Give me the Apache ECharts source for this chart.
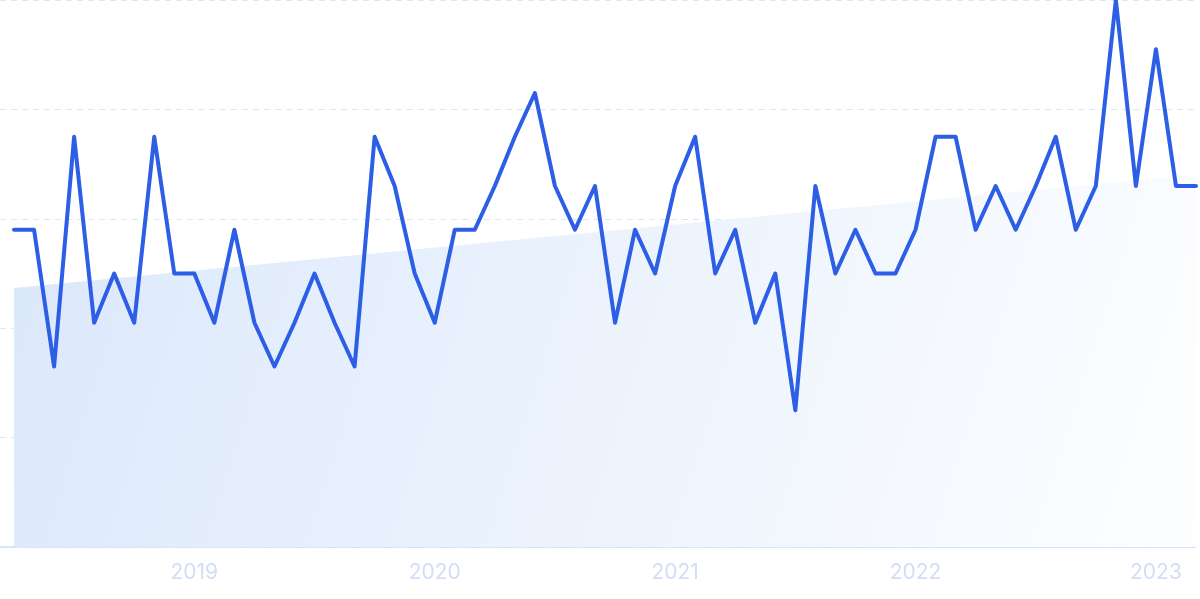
<!DOCTYPE html>
<html>
<head>
<meta charset="utf-8">
<script src="https://cdn.jsdelivr.net/npm/echarts@6/dist/echarts.min.js"></script>
<style>
  html, body { margin: 0; padding: 0; background: #ffffff; }
  #chart { width: 1200px; height: 599px; }
</style>
</head>
<body>
<div id="chart"></div>
<script>
// Monthly categories, Apr 2018 .. Mar 2023
const months = [
  '2018-04','2018-05','2018-06','2018-07','2018-08','2018-09','2018-10','2018-11','2018-12',
  '2019-01','2019-02','2019-03','2019-04','2019-05','2019-06','2019-07','2019-08','2019-09','2019-10','2019-11','2019-12',
  '2020-01','2020-02','2020-03','2020-04','2020-05','2020-06','2020-07','2020-08','2020-09','2020-10','2020-11','2020-12',
  '2021-01','2021-02','2021-03','2021-04','2021-05','2021-06','2021-07','2021-08','2021-09','2021-10','2021-11','2021-12',
  '2022-01','2022-02','2022-03','2022-04','2022-05','2022-06','2022-07','2022-08','2022-09','2022-10','2022-11','2022-12',
  '2023-01','2023-02','2023-03'
];
// Interest values (0-100)
const values = [
  58, 58, 33, 75, 41, 50, 41, 75, 50,
  50, 41, 58, 41, 33, 41, 50, 41, 33, 75, 66, 50,
  41, 58, 58, 66, 75, 83, 66, 58, 66, 41, 58, 50,
  66, 75, 50, 58, 41, 50, 25, 66, 50, 58, 50, 50,
  58, 75, 75, 58, 66, 58, 66, 75, 58, 66, 100, 66,
  91, 66, 66
];
// Year tick labels (January of each year)
const yearTicks = ['2019', '2020', '2021', '2022', '2023'];

const lineData = values.map((v, i) => [i, v]);

// Linear regression trend derived from the data
const n = values.length;
let sx = 0, sy = 0, sxy = 0, sxx = 0;
values.forEach((v, i) => { sx += i; sy += v; sxy += i * v; sxx += i * i; });
const slope = (n * sxy - sx * sy) / (n * sxx - sx * sx);
const intercept = (sy - slope * sx) / n;
const trendData = [[0, intercept], [n - 1, intercept + slope * (n - 1)]];

const tickIdx = yearTicks.map(y => months.indexOf(y + '-01'));

const chart = echarts.init(document.getElementById('chart'));
chart.setOption({
  animation: false,
  grid: { left: 0, right: 4, top: 0, bottom: 52, containLabel: false },
  xAxis: {
    type: 'value',
    min: -0.7,
    max: n - 1,
    axisLine: { show: true, lineStyle: { color: '#d0e2f9', width: 1.5 } },
    axisTick: { show: false },
    splitLine: { show: false },
    axisLabel: {
      customValues: tickIdx,
      formatter: (val) => {
        const m = months[Math.round(val)];
        return m ? m.slice(0, 4) : '';
      },
      color: '#d2ddf6',
      fontFamily: 'Inter',
      fontSize: 21,
      margin: 15
    }
  },
  yAxis: {
    type: 'value',
    min: 0,
    max: 100,
    interval: 20,
    axisLabel: { show: false },
    axisLine: { show: false },
    axisTick: { show: false },
    splitLine: { show: true, lineStyle: { color: '#d8e6fb', type: [6, 5], width: 1.2 } }
  },
  series: [
    {
      type: 'line',
      data: trendData,
      showSymbol: false,
      silent: true,
      z: 1,
      lineStyle: { width: 0 },
      areaStyle: {
        opacity: 1,
        color: new echarts.graphic.LinearGradient(0, 0, 1, 1, [
          { offset: 0, color: '#dbe8fb' },
          { offset: 1, color: '#fdfeff' }
        ])
      }
    },
    {
      type: 'line',
      data: lineData,
      showSymbol: false,
      z: 3,
      lineStyle: { color: '#2d5ee6', width: 4, join: 'round', cap: 'round' }
    }
  ]
});
</script>
</body>
</html>
